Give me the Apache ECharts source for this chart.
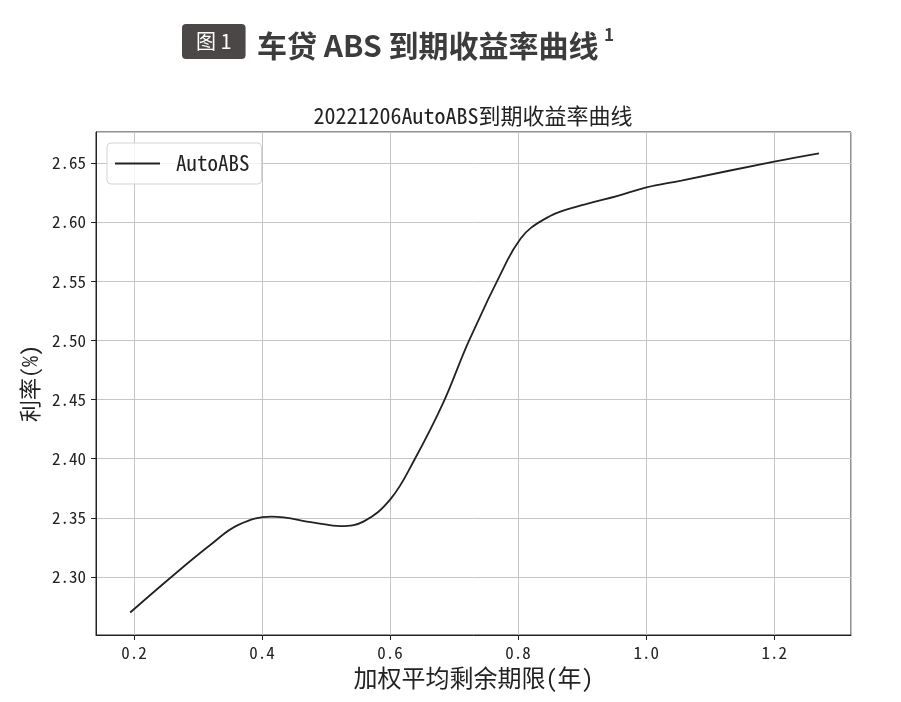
<!DOCTYPE html>
<html>
<head>
<meta charset="utf-8">
<script src="https://cdn.jsdelivr.net/npm/echarts@6/dist/echarts.min.js"></script>
<style>
  html, body { margin: 0; padding: 0; background: #fff; }
  #main { width: 901px; height: 702px; }
</style>
</head>
<body>
<div id="main"></div>
<script>
// 加权平均剩余期限(年) / 利率(%)
const years = [0.194, 0.256, 0.319, 0.363, 0.415, 0.481, 0.5225, 0.559, 0.601,
  0.637, 0.682, 0.7235, 0.7835, 0.804, 0.82, 0.85, 0.867, 0.9088, 0.9557,
  0.999, 1.055, 1.200, 1.270]
const rates = [2.270, 2.299, 2.327, 2.344, 2.351, 2.346, 2.343, 2.347, 2.366,
  2.398, 2.446, 2.500, 2.568, 2.586, 2.595, 2.605, 2.609, 2.6155, 2.622,
  2.629, 2.635, 2.651, 2.658]
const seriesName = 'AutoABS'
const chartTitle = '20221206AutoABS到期收益率曲线'

const MONO = "'Noto Sans Mono CJK SC', 'Noto Sans CJK SC', monospace"
const SANS = "'Noto Sans CJK SC', 'Noto Sans', sans-serif"

let points = []
for (let i = 0; i < years.length; i++) {
  points.push([years[i], rates[i]])
}

let chart = echarts.init(document.getElementById('main'))
chart.setOption({
  animation: false,
  title: [
    {
      text: '图 1', left: 182, top: 24,
      backgroundColor: '#4b4747', borderRadius: 4, padding: [6, 14],
      textStyle: { color: '#fff', fontSize: 20, fontWeight: 'normal', fontFamily: SANS, lineHeight: 23 }
    },
    {
      text: '车贷 ABS 到期收益率曲线', left: 257, top: 31, padding: 0,
      textStyle: { color: '#3c3c3c', fontSize: 30, fontWeight: 'bold', fontFamily: SANS, lineHeight: 30 }
    },
    {
      text: '1', left: 604, top: 26, padding: 0,
      textStyle: { color: '#3c3c3c', fontSize: 17, fontWeight: 'bold', fontFamily: SANS, lineHeight: 17 }
    },
    {
      text: chartTitle, left: 473, top: 105, textAlign: 'center', padding: 0,
      textStyle: { color: '#222', fontSize: 22, fontWeight: 'normal', fontFamily: MONO }
    }
  ],
  legend: {
    left: 107, top: 143,
    data: [seriesName],
    icon: 'rect', itemWidth: 45, itemHeight: 2,
    padding: [10, 12, 10, 8],
    borderColor: '#d4d4d4', borderWidth: 1, borderRadius: 4,
    backgroundColor: 'rgba(255,255,255,0.8)',
    textStyle: { color: '#222', fontSize: 21, fontFamily: MONO, padding: [0, 0, 0, 11] }
  },
  grid: {
    left: 96, right: 50, top: 132, bottom: 67,
    show: true, borderColor: '#222', borderWidth: 1, backgroundColor: 'transparent'
  },
  xAxis: {
    type: 'value',
    min: 0.1406, max: 1.32,
    splitNumber: 6, minInterval: 0.2, maxInterval: 0.2,
    name: '加权平均剩余期限(年)', nameLocation: 'middle', nameGap: 30,
    nameTextStyle: { color: '#222', fontSize: 24, fontFamily: MONO },
    axisLine: { show: true, lineStyle: { color: '#222' } },
    axisTick: { show: true, length: 5, lineStyle: { color: '#222' } },
    axisLabel: {
      color: '#222', fontSize: 17, fontFamily: MONO, margin: 9,
      showMinLabel: false, showMaxLabel: false,
      formatter: v => v.toFixed(1)
    },
    splitLine: { show: true, lineStyle: { color: '#c6c6c6', width: 1 } }
  },
  yAxis: {
    type: 'value',
    min: 2.251, max: 2.676,
    splitNumber: 8, minInterval: 0.05, maxInterval: 0.05,
    name: '利率(%)', nameLocation: 'middle', nameGap: 52,
    nameTextStyle: { color: '#222', fontSize: 22, fontFamily: MONO },
    axisLine: { show: true, lineStyle: { color: '#222' } },
    axisTick: { show: true, length: 5, lineStyle: { color: '#222' } },
    axisLabel: {
      color: '#222', fontSize: 17, fontFamily: MONO, margin: 10,
      showMinLabel: false, showMaxLabel: false,
      formatter: v => v.toFixed(2)
    },
    splitLine: { show: true, lineStyle: { color: '#c6c6c6', width: 1 } }
  },
  series: [{
    name: seriesName,
    type: 'line',
    data: points,
    smooth: 0.4,
    showSymbol: false,
    lineStyle: { color: '#222', width: 1.8 },
    itemStyle: { color: '#222' }
  }]
})
</script>
</body>
</html>
